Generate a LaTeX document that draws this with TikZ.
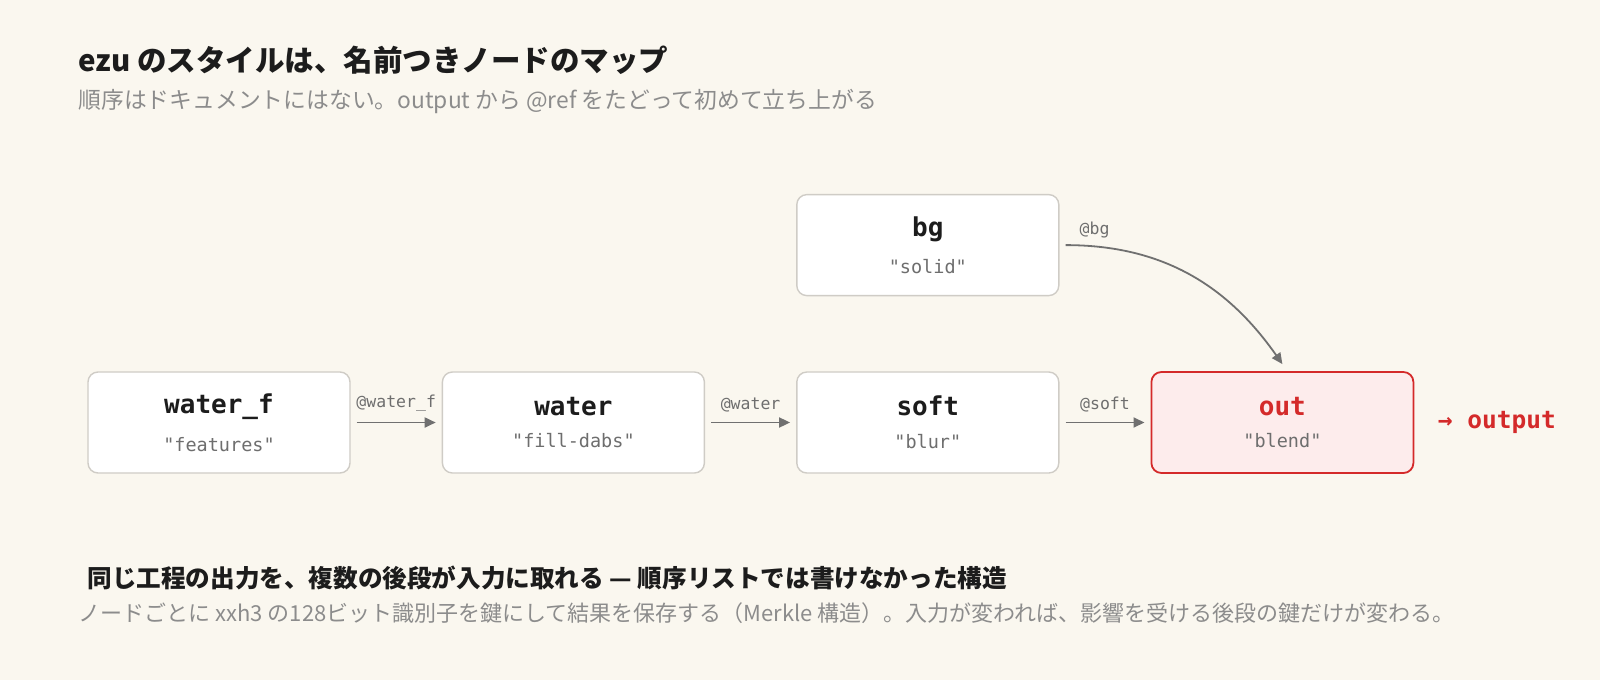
\documentclass[tikz,border=0pt]{standalone}
\usepackage{fontspec}
\setmainfont{Noto Sans CJK JP}
\setmonofont{DejaVu Sans Mono}
\usetikzlibrary{positioning,arrows.meta}

\definecolor{paper}{HTML}{FAF7EF}
\definecolor{ink}{HTML}{1C1C1C}
\definecolor{subgray}{HTML}{6E6E6E}
\definecolor{lightgray}{HTML}{8C8C8C}
\definecolor{boxline}{HTML}{CFCCC6}
\definecolor{flowgray}{HTML}{707070}
\definecolor{outred}{HTML}{D42A2A}
\definecolor{outfill}{HTML}{FDECEC}

\newcommand\stagetext[2]{{\fontsize{26}{26}\selectfont\bfseries #1}\\[17pt]{\fontsize{18.5}{18.5}\selectfont\color{subgray}#2}}

\tikzset{
  stagebox/.style={draw=boxline, line width=1.4pt, fill=white, rounded corners=10pt,
    minimum width=262pt, minimum height=101pt, align=center, font=\ttfamily, text=ink},
  outbox/.style={stagebox, draw=outred, fill=outfill, line width=1.8pt, text=outred},
  flow/.style={draw=flowgray, line width=1.8pt, -{Triangle[length=11pt,width=10pt]}},
  edgelbl/.style={font=\ttfamily\fontsize{16.5}{16.5}\selectfont, text=subgray, inner sep=2pt}
}

\begin{document}
\begin{tikzpicture}[x=1pt, y=-1pt, node distance = 91pt]
    \useasboundingbox[fill=paper] (0,0) rectangle (1600,680);

    \node[anchor=west, text=ink, font=\fontsize{29.5}{29.5}\selectfont\bfseries] (title) at (75,60)
      {ezu のスタイルは、名前つきノードのマップ};
    \node[anchor=west, text=lightgray, font=\fontsize{22.8}{22.8}\selectfont] (subtitle) at (75,101)
      {順序はドキュメントにはない。output から @ref をたどって初めて立ち上がる};

    \node[stagebox] (water_f) at (219,422.5) {\stagetext{water\_f}{"features"}};
    \node[stagebox, right = of water_f] (water) {\stagetext{water}{"fill-dabs"}};
    \node[stagebox, right = of water] (soft) {\stagetext{soft}{"blur"}};
    \node[outbox, right = of soft] (out) {\stagetext{out}{"blend"}};
    \node[stagebox, above = 75pt of soft] (bg) {\stagetext{bg}{"solid"}};

    \draw[flow] ([xshift=6pt]water_f.east) -- node[edgelbl, above=8pt] (lwater_f) {@water\_f} ([xshift=-6pt]water.west);
    \draw[flow] ([xshift=6pt]water.east) -- node[edgelbl, above=8pt] (lwater) {@water} ([xshift=-6pt]soft.west);
    \draw[flow] ([xshift=6pt]soft.east) -- node[edgelbl, above=8pt] (lsoft) {@soft} ([xshift=-6pt]out.west);
    \draw[flow] ([xshift=6pt]bg.east) to[out=0, in=125] ([yshift=7pt]out.north);
    \node[edgelbl, anchor=south west] (lbg) at ([xshift=18pt, yshift=5pt]bg.east) {@bg};

    \node[anchor=west, text=outred, font=\ttfamily\bfseries\fontsize{24.5}{24.5}\selectfont] (output)
      at ([xshift=20pt]out.east) {→ output};

    \node[anchor=west, text=ink, font=\fontsize{24.6}{24.6}\selectfont\bfseries] (lesson) at (84,578)
      {同じ工程の出力を、複数の後段が入力に取れる — 順序リストでは書けなかった構造};
    \node[anchor=west, text=lightgray, font=\fontsize{22}{22}\selectfont] (note) at (75,613)
      {ノードごとに xxh3 の128ビット識別子を鍵にして結果を保存する（Merkle 構造）。入力が変われば、影響を受ける後段の鍵だけが変わる。};
\end{tikzpicture}
\end{document}
